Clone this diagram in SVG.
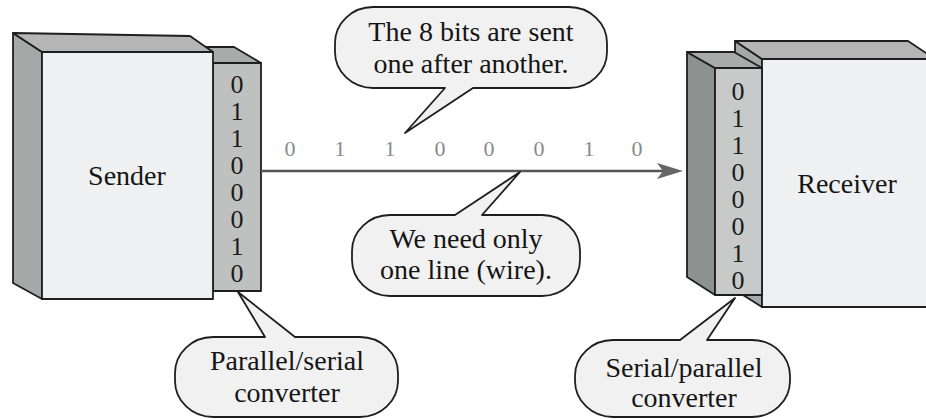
<svg xmlns="http://www.w3.org/2000/svg" width="926" height="419" viewBox="0 0 926 419">
  <style>
    .edge { stroke: #1e1e1e; stroke-width: 1.8; stroke-linejoin: round; }
    .front { fill: #eef0f1; }
    .side { fill: #a6a8a7; }
    .top { fill: #b4b5b4; }
    .conv-front { fill: #bfc1c0; }
    .conv-top { fill: #a9abaa; }
    .conv-side { fill: #8d918f; }
    .rconv-front { fill: #c7cac9; }
    .label { font-family: "Liberation Serif", "Times New Roman", serif; font-size: 28px; fill: #151515; text-anchor: middle; }
    .bit { font-family: "Liberation Serif", "Times New Roman", serif; font-size: 26px; fill: #1a1a1a; text-anchor: middle; }
    .wirebit { font-family: "Liberation Serif", "Times New Roman", serif; font-size: 22px; fill: #8a8a8a; text-anchor: middle; }
    .bubble { fill: #f1f1f1; stroke: #1e1e1e; stroke-width: 1.8; stroke-linejoin: round; }
    .wire { stroke: #555; stroke-width: 2.6; fill: none; }
  </style>
  <defs>
    <marker id="arrow" viewBox="0 0 26 16" refX="18" refY="8" markerWidth="26" markerHeight="16" markerUnits="userSpaceOnUse" orient="auto">
      <path d="M0,0 L26,8 L0,16 L6,8 Z" fill="#666"/>
    </marker>
  </defs>

  <rect width="926" height="419" fill="#ffffff"/>

  <!-- Sending computer with its parallel/serial converter -->
  <g id="sender">
    <g id="sender-converter">
      <polygon class="conv-top edge" points="205,47 234,47 261,63 213,63"/>
      <rect class="conv-front edge" x="213" y="63" width="48" height="228"/>
      <text class="bit" x="237" y="93">0</text>
      <text class="bit" x="237" y="120">1</text>
      <text class="bit" x="237" y="147">1</text>
      <text class="bit" x="237" y="174">0</text>
      <text class="bit" x="237" y="201">0</text>
      <text class="bit" x="237" y="228">0</text>
      <text class="bit" x="237" y="255">1</text>
      <text class="bit" x="237" y="282">0</text>
    </g>
    <polygon class="side edge" points="13,33 42,52 42,299 13,283"/>
    <polygon class="top edge" points="13,33 190,36 213,52 42,52"/>
    <rect class="front edge" x="42" y="52" width="171" height="247"/>
    <text class="label" x="127" y="185">Sender</text>
  </g>

  <!-- Receiving computer with its serial/parallel converter -->
  <g id="receiver">
    <polygon class="side edge" points="735,41 762,59 762,307 735,290"/>
    <polygon class="top edge" points="735,41 908,41 935,59 762,59"/>
    <rect class="front edge" x="762" y="59" width="180" height="248"/>
    <text class="label" x="847" y="193">Receiver</text>
    <g id="receiver-converter">
      <polygon class="conv-side edge" points="687,52 715,68 715,295 687,277"/>
      <polygon class="conv-top edge" points="687,52 734,52 762,68 715,68"/>
      <rect class="rconv-front edge" x="715" y="68" width="47" height="227"/>
      <text class="bit" x="738" y="100">0</text>
      <text class="bit" x="738" y="127">1</text>
      <text class="bit" x="738" y="154">1</text>
      <text class="bit" x="738" y="181">0</text>
      <text class="bit" x="738" y="208">0</text>
      <text class="bit" x="738" y="235">0</text>
      <text class="bit" x="738" y="262">1</text>
      <text class="bit" x="738" y="289">0</text>
    </g>
  </g>

  <!-- Single wire carrying the bits one after another -->
  <g id="connectors">
    <line class="wire" x1="261" y1="171" x2="675" y2="171" marker-end="url(#arrow)"/>
    <text class="wirebit" x="290" y="156">0</text>
    <text class="wirebit" x="340" y="156">1</text>
    <text class="wirebit" x="390" y="156">1</text>
    <text class="wirebit" x="440" y="156">0</text>
    <text class="wirebit" x="489" y="156">0</text>
    <text class="wirebit" x="539" y="156">0</text>
    <text class="wirebit" x="589" y="156">1</text>
    <text class="wirebit" x="637" y="156">0</text>
  </g>

  <!-- Speech-bubble callouts -->
  <g id="callout-bits">
    <path class="bubble" d="M373,7 H569 A38,36 0 0 1 607,43 V52 A38,36 0 0 1 569,88 H473 L405,133 L445,88 H373 A38,36 0 0 1 335,52 V43 A38,36 0 0 1 373,7 Z"/>
    <text class="label" x="471" y="41">The 8 bits are sent</text>
    <text class="label" x="471" y="73">one after another.</text>
  </g>

  <g id="callout-wire">
    <path class="bubble" d="M390,215 H455 L520,172 L482,215 H542 A38,36 0 0 1 580,251 V260 A38,36 0 0 1 542,296 H390 A38,36 0 0 1 352,260 V251 A38,36 0 0 1 390,215 Z"/>
    <text class="label" x="466" y="248">We need only</text>
    <text class="label" x="466" y="279">one line (wire).</text>
  </g>

  <g id="callout-sender-converter">
    <path class="bubble" d="M213,337 H265 L238,292 L295,337 H360 A38,36 0 0 1 398,373 V381 A38,36 0 0 1 360,417 H213 A38,36 0 0 1 175,381 V373 A38,36 0 0 1 213,337 Z"/>
    <text class="label" x="287" y="370">Parallel/serial</text>
    <text class="label" x="287" y="402">converter</text>
  </g>

  <g id="callout-receiver-converter">
    <path class="bubble" d="M613,340 H680 L735,298 L707,340 H752 A38,36 0 0 1 790,376 V381 A38,36 0 0 1 752,417 H613 A38,36 0 0 1 575,381 V376 A38,36 0 0 1 613,340 Z"/>
    <text class="label" x="684" y="377">Serial/parallel</text>
    <text class="label" x="684" y="407">converter</text>
  </g>
</svg>
